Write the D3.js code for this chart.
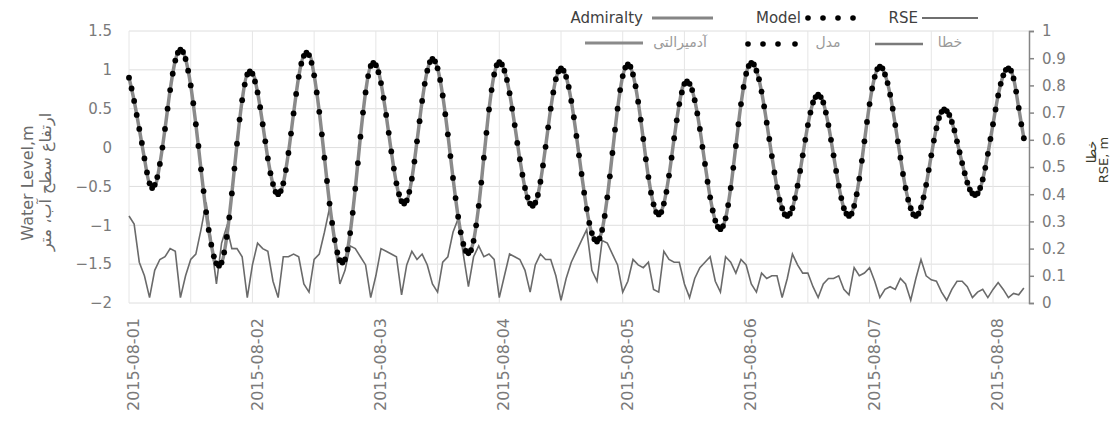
<!DOCTYPE html>
<html>
<head>
<meta charset="utf-8">
<script src="https://cdn.jsdelivr.net/npm/d3@7"></script>
<style>
	body { margin: 0; background: #fff; }
	text { font-family: 'DejaVu Sans', sans-serif; }
</style>
</head>
<body>
<div id="chart"></div>
<script>
// model water level (m), one value every 30 minutes from 2015-08-01 00:00
var model = [
	0.90, 0.76, 0.60, 0.42, 0.24, 0.06, -0.14, -0.32, -0.46, -0.52, -0.48, -0.38,
	-0.21, 0.00, 0.24, 0.50, 0.74, 0.95, 1.12, 1.22, 1.26, 1.23, 1.14, 0.99,
	0.80, 0.57, 0.30, 0.02, -0.28, -0.56, -0.83, -1.06, -1.25, -1.40, -1.49, -1.52,
	-1.48, -1.35, -1.15, -0.90, -0.59, -0.27, 0.05, 0.36, 0.61, 0.81, 0.94, 0.98,
	0.95, 0.85, 0.71, 0.52, 0.30, 0.08, -0.14, -0.33, -0.47, -0.57, -0.60, -0.56,
	-0.46, -0.29, -0.07, 0.18, 0.44, 0.69, 0.91, 1.08, 1.18, 1.22, 1.19, 1.09,
	0.93, 0.71, 0.46, 0.17, -0.13, -0.43, -0.72, -0.97, -1.19, -1.35, -1.45, -1.48,
	-1.44, -1.31, -1.10, -0.84, -0.53, -0.20, 0.14, 0.45, 0.71, 0.92, 1.05, 1.09,
	1.06, 0.97, 0.83, 0.64, 0.42, 0.19, -0.05, -0.27, -0.46, -0.60, -0.69, -0.72,
	-0.68, -0.57, -0.40, -0.18, 0.08, 0.34, 0.60, 0.82, 0.99, 1.10, 1.14, 1.11,
	1.02, 0.87, 0.67, 0.43, 0.17, -0.11, -0.39, -0.65, -0.89, -1.09, -1.24, -1.33,
	-1.36, -1.32, -1.20, -1.00, -0.75, -0.45, -0.13, 0.19, 0.49, 0.74, 0.94, 1.06,
	1.10, 1.07, 0.99, 0.87, 0.70, 0.50, 0.29, 0.06, -0.15, -0.35, -0.52, -0.64,
	-0.72, -0.75, -0.71, -0.61, -0.44, -0.23, 0.01, 0.26, 0.50, 0.71, 0.88, 0.98,
	1.02, 0.99, 0.91, 0.78, 0.60, 0.39, 0.15, -0.10, -0.34, -0.58, -0.79, -0.97,
	-1.10, -1.18, -1.21, -1.17, -1.06, -0.88, -0.64, -0.37, -0.07, 0.23, 0.50, 0.74,
	0.92, 1.03, 1.07, 1.04, 0.94, 0.79, 0.59, 0.36, 0.11, -0.15, -0.38, -0.58,
	-0.73, -0.83, -0.86, -0.83, -0.72, -0.57, -0.36, -0.13, 0.12, 0.35, 0.56, 0.71,
	0.82, 0.85, 0.82, 0.74, 0.61, 0.44, 0.24, 0.01, -0.21, -0.44, -0.64, -0.81,
	-0.94, -1.02, -1.05, -1.01, -0.91, -0.74, -0.52, -0.26, 0.02, 0.30, 0.56, 0.78,
	0.95, 1.05, 1.09, 1.07, 0.99, 0.88, 0.72, 0.53, 0.32, 0.11, -0.11, -0.32,
	-0.51, -0.67, -0.78, -0.86, -0.88, -0.85, -0.78, -0.65, -0.49, -0.30, -0.10, 0.10,
	0.29, 0.45, 0.58, 0.65, 0.68, 0.65, 0.58, 0.45, 0.29, 0.10, -0.10, -0.30,
	-0.49, -0.65, -0.78, -0.85, -0.88, -0.85, -0.75, -0.60, -0.40, -0.17, 0.08, 0.33,
	0.56, 0.76, 0.91, 1.01, 1.04, 1.02, 0.94, 0.83, 0.68, 0.50, 0.29, 0.08,
	-0.13, -0.34, -0.52, -0.67, -0.78, -0.86, -0.88, -0.85, -0.77, -0.64, -0.48, -0.29,
	-0.10, 0.09, 0.25, 0.38, 0.46, 0.49, 0.47, 0.42, 0.33, 0.22, 0.08, -0.06,
	-0.20, -0.33, -0.45, -0.54, -0.59, -0.61, -0.59, -0.52, -0.41, -0.26, -0.08, 0.11,
	0.30, 0.49, 0.67, 0.82, 0.93, 1.00, 1.02, 0.99, 0.89, 0.72, 0.51, 0.30,
	0.12
];

// admiralty water level (m), hourly
var admiralty = [
	0.90, 0.60, 0.24, -0.14, -0.46, -0.49,
	-0.21, 0.24, 0.74, 1.12, 1.27, 1.14,
	0.80, 0.30, -0.28, -0.83, -1.25, -1.51,
	-1.48, -1.15, -0.59, 0.05, 0.61, 0.94,
	0.96, 0.71, 0.30, -0.14, -0.47, -0.61,
	-0.46, -0.07, 0.44, 0.91, 1.18, 1.20,
	0.93, 0.46, -0.13, -0.72, -1.19, -1.46,
	-1.44, -1.10, -0.53, 0.14, 0.71, 1.05,
	1.07, 0.83, 0.42, -0.05, -0.46, -0.70,
	-0.68, -0.40, 0.08, 0.60, 0.99, 1.14,
	1.02, 0.67, 0.17, -0.39, -0.89, -1.25,
	-1.36, -1.20, -0.75, -0.13, 0.49, 0.94,
	1.10, 0.99, 0.70, 0.29, -0.15, -0.52,
	-0.73, -0.71, -0.44, 0.01, 0.50, 0.88,
	1.02, 0.91, 0.60, 0.15, -0.34, -0.79,
	-1.11, -1.20, -1.06, -0.64, -0.07, 0.50,
	0.92, 1.07, 0.94, 0.59, 0.11, -0.38,
	-0.73, -0.86, -0.72, -0.36, 0.12, 0.56,
	0.83, 0.82, 0.61, 0.24, -0.21, -0.64,
	-0.94, -1.05, -0.91, -0.52, 0.02, 0.56,
	0.95, 1.09, 0.99, 0.72, 0.32, -0.11,
	-0.51, -0.78, -0.88, -0.78, -0.49, -0.10,
	0.29, 0.58, 0.68, 0.58, 0.29, -0.10,
	-0.49, -0.78, -0.88, -0.75, -0.40, 0.08,
	0.56, 0.91, 1.04, 0.94, 0.68, 0.29,
	-0.13, -0.52, -0.78, -0.88, -0.77, -0.48,
	-0.10, 0.25, 0.46, 0.48, 0.33, 0.08,
	-0.20, -0.45, -0.59, -0.59, -0.41, -0.08,
	0.30, 0.67, 0.93, 1.02, 0.89, 0.51,
	0.12
];

// RSE (m), hourly, right axis
var rse = [
	0.32, 0.29, 0.15, 0.10, 0.02, 0.12,
	0.16, 0.17, 0.20, 0.19, 0.02, 0.10,
	0.16, 0.18, 0.27, 0.37, 0.22, 0.07,
	0.22, 0.28, 0.20, 0.20, 0.17, 0.02,
	0.14, 0.22, 0.20, 0.19, 0.08, 0.02,
	0.17, 0.17, 0.18, 0.17, 0.07, 0.04,
	0.16, 0.18, 0.26, 0.35, 0.22, 0.07,
	0.12, 0.21, 0.20, 0.17, 0.14, 0.02,
	0.10, 0.20, 0.19, 0.18, 0.17, 0.03,
	0.14, 0.19, 0.16, 0.18, 0.14, 0.07,
	0.04, 0.15, 0.17, 0.26, 0.31, 0.18,
	0.06, 0.17, 0.21, 0.17, 0.18, 0.16,
	0.02, 0.10, 0.18, 0.17, 0.16, 0.12,
	0.04, 0.14, 0.18, 0.16, 0.16, 0.10,
	0.01, 0.09, 0.15, 0.19, 0.23, 0.27,
	0.12, 0.08, 0.23, 0.22, 0.18, 0.14,
	0.04, 0.08, 0.16, 0.14, 0.13, 0.15,
	0.05, 0.04, 0.19, 0.16, 0.15, 0.15,
	0.07, 0.02, 0.09, 0.13, 0.15, 0.17,
	0.08, 0.04, 0.17, 0.15, 0.11, 0.16,
	0.14, 0.07, 0.04, 0.11, 0.09, 0.10,
	0.10, 0.02, 0.09, 0.18, 0.14, 0.11,
	0.11, 0.06, 0.02, 0.07, 0.09, 0.09,
	0.10, 0.05, 0.03, 0.13, 0.10, 0.11,
	0.13, 0.08, 0.02, 0.05, 0.06, 0.05,
	0.09, 0.07, 0.01, 0.09, 0.16, 0.10,
	0.085, 0.08, 0.04, 0.01, 0.05, 0.08,
	0.08, 0.06, 0.02, 0.04, 0.05, 0.02,
	0.05, 0.075, 0.05, 0.02, 0.035, 0.03,
	0.055
];

var day_labels = ['2015-08-01', '2015-08-02', '2015-08-03', '2015-08-04',
	'2015-08-05', '2015-08-06', '2015-08-07', '2015-08-08'];
var left_ticks = [-2, -1.5, -1, -0.5, 0, 0.5, 1, 1.5];
var right_ticks = [0, 0.1, 0.2, 0.3, 0.4, 0.5, 0.6, 0.7, 0.8, 0.9, 1];


function create_chart() {
	var svg = d3.select('#chart')
		.append('svg')
		.attr('width', 1110)
		.attr('height', 423);

	// hours since 2015-08-01 00:00
	var x = d3.scaleLinear()
		.domain([0, 175])
		.range([129, 1029]);
	var y = d3.scaleLinear()
		.domain([-2, 1.5])
		.range([303, 31]);
	var y2 = d3.scaleLinear()
		.domain([0, 1])
		.range([303, 31]);

	// gridlines
	var grid = svg.append('g');
	grid.selectAll('.hgrid')
		.data(left_ticks)
		.enter()
		.append('line')
			.attr('x1', x(0))
			.attr('x2', x(175))
			.attr('y1', function(d) { return y(d); })
			.attr('y2', function(d) { return y(d); })
			.style('stroke', '#dedede');
	grid.selectAll('.vgrid')
		.data(d3.range(0, 175, 12))
		.enter()
		.append('line')
			.attr('x1', function(d) { return x(d); })
			.attr('x2', function(d) { return x(d); })
			.attr('y1', y(1.5))
			.attr('y2', y(-2))
			.style('stroke', '#e6e6e6');

	// left axis
	var left = svg.append('g')
		.attr('transform', 'translate(' + x(0) + ',0)')
		.call(d3.axisLeft(y).tickValues(left_ticks).tickSize(0).tickPadding(17).tickFormat(d3.format('~g')));
	left.select('.domain').remove();
	left.selectAll('text')
		.style('font-family', 'DejaVu Sans')
		.style('font-size', '15px')
		.style('fill', '#7a7a7a');

	// right axis
	var right = svg.append('g')
		.attr('transform', 'translate(' + x(175) + ',0)')
		.call(d3.axisRight(y2).tickValues(right_ticks).tickSize(5).tickPadding(8).tickFormat(d3.format('~g')));
	right.select('.domain').style('stroke', '#858585').style('stroke-width', 1.5);
	right.selectAll('line').style('stroke', '#858585').style('stroke-width', 1.5);
	right.selectAll('text')
		.style('font-family', 'DejaVu Sans')
		.style('font-size', '15px')
		.style('fill', '#7a7a7a');

	// x axis, rotated day labels
	var bottom = svg.append('g')
		.attr('transform', 'translate(0,' + y(-2) + ')')
		.call(d3.axisBottom(x).tickValues([0, 24, 48, 72, 96, 120, 144, 168]).tickSize(0)
			.tickFormat(function(d, i) { return day_labels[i]; }));
	bottom.select('.domain').remove();
	bottom.selectAll('text')
		.attr('x', 0)
		.attr('y', 0)
		.attr('dy', '0.35em')
		.attr('transform', 'translate(4,15) rotate(-90)')
		.style('text-anchor', 'end')
		.style('font-family', 'DejaVu Sans')
		.style('font-size', '16px')
		.style('fill', '#7a7a7a');

	// axis titles
	svg.append('text')
		.attr('transform', 'translate(33,183) rotate(-90)')
		.attr('text-anchor', 'middle')
		.style('font-size', '16px')
		.style('fill', '#6a6a6a')
		.text('Water Level,m');
	svg.append('text')
		.attr('transform', 'translate(51,182) rotate(-90)')
		.attr('text-anchor', 'middle')
		.style('font-size', '16px')
		.style('fill', '#6a6a6a')
		.text('ارتفاع سطح آب، متر');
	svg.append('text')
		.attr('transform', 'translate(1096,152) rotate(-90)')
		.attr('text-anchor', 'middle')
		.style('font-size', '13px')
		.style('fill', '#3a3a2a')
		.text('خطا');
	svg.append('text')
		.attr('transform', 'translate(1108,160) rotate(-90)')
		.attr('text-anchor', 'middle')
		.style('font-size', '13px')
		.style('fill', '#3a3a2a')
		.text('RSE, m');

	// RSE line
	svg.append('path')
		.datum(rse)
		.attr('d', d3.line()
			.x(function(d, i) { return x(i); })
			.y(function(d) { return y2(d); }))
		.style('fill', 'none')
		.style('stroke', '#6a6a6a')
		.style('stroke-width', 1.6);

	// admiralty line
	svg.append('path')
		.datum(admiralty)
		.attr('d', d3.line()
			.curve(d3.curveMonotoneX)
			.x(function(d, i) { return x(i); })
			.y(function(d) { return y(d); }))
		.style('fill', 'none')
		.style('stroke', '#8a8a8a')
		.style('stroke-width', 3.5);

	// model dots
	svg.append('g')
		.selectAll('circle')
		.data(model)
		.enter()
		.append('circle')
			.attr('cx', function(d, i) { return x(i * 0.5); })
			.attr('cy', function(d) { return y(d); })
			.attr('r', 2.9)
			.style('fill', '#000');

	// legend, english row
	var legend = svg.append('g');
	legend.append('text')
		.attr('x', 643).attr('y', 18).attr('dy', '0.35em')
		.attr('text-anchor', 'end')
		.style('font-size', '15px').style('fill', '#404040')
		.text('Admiralty');
	legend.append('line')
		.attr('x1', 652).attr('x2', 713).attr('y1', 18).attr('y2', 18)
		.style('stroke', '#858585').style('stroke-width', 3);
	legend.append('text')
		.attr('x', 801).attr('y', 18).attr('dy', '0.35em')
		.attr('text-anchor', 'end')
		.style('font-size', '15px').style('fill', '#404040')
		.text('Model');
	legend.selectAll('.dot1')
		.data([808, 823, 838, 853])
		.enter()
		.append('circle')
			.attr('cx', function(d) { return d; })
			.attr('cy', 18)
			.attr('r', 2.8)
			.style('fill', '#000');
	legend.append('text')
		.attr('x', 918).attr('y', 18).attr('dy', '0.35em')
		.attr('text-anchor', 'end')
		.style('font-size', '15px').style('fill', '#404040')
		.text('RSE');
	legend.append('line')
		.attr('x1', 922).attr('x2', 978).attr('y1', 18).attr('y2', 18)
		.style('stroke', '#6f6f6f').style('stroke-width', 2);

	// legend, persian row
	legend.append('line')
		.attr('x1', 585).attr('x2', 643).attr('y1', 43).attr('y2', 43)
		.style('stroke', '#8a8a8a').style('stroke-width', 3);
	legend.append('text')
		.attr('x', 680).attr('y', 42).attr('dy', '0.35em')
		.attr('text-anchor', 'middle')
		.style('font-size', '14px').style('fill', '#9a9a9a')
		.text('آدمیرالتی');
	legend.selectAll('.dot2')
		.data([748, 763, 778, 795])
		.enter()
		.append('circle')
			.attr('cx', function(d) { return d; })
			.attr('cy', 44)
			.attr('r', 2.8)
			.style('fill', '#000');
	legend.append('text')
		.attr('x', 828).attr('y', 42).attr('dy', '0.35em')
		.attr('text-anchor', 'middle')
		.style('font-size', '14px').style('fill', '#9a9a9a')
		.text('مدل');
	legend.append('line')
		.attr('x1', 875).attr('x2', 923).attr('y1', 44).attr('y2', 44)
		.style('stroke', '#7a7a7a').style('stroke-width', 2.5);
	legend.append('text')
		.attr('x', 950).attr('y', 42).attr('dy', '0.35em')
		.attr('text-anchor', 'middle')
		.style('font-size', '14px').style('fill', '#9a9a9a')
		.text('خطا');
}


create_chart();
</script>
</body>
</html>
